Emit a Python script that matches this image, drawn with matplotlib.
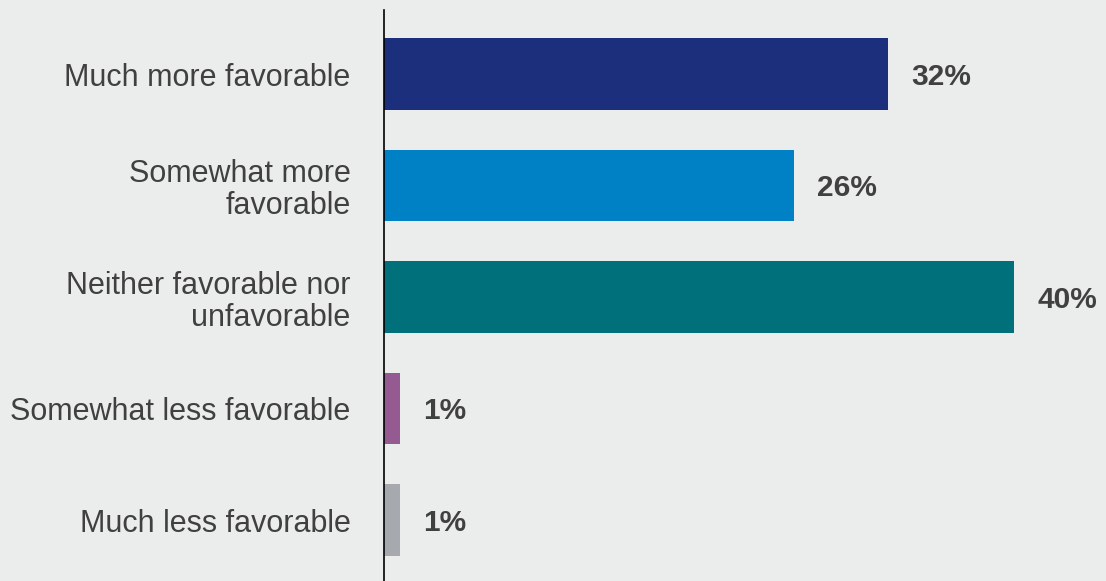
import matplotlib
matplotlib.use("Agg")
from matplotlib import pyplot as plt

categories = ["Much more favorable", "Somewhat more\nfavorable",
              "Neither favorable nor\nunfavorable", "Somewhat less favorable",
              "Much less favorable"]
values = [32, 26, 40, 1, 1]
value_labels = ["32%", "26%", "40%", "1%", "1%"]
bar_colors = ["#1B2F7D", "#0081C6", "#00717A", "#955A91", "#A6AAAE"]

bg = "#EBEDEC"
text_color = "#404040"

plt.rcParams["font.family"] = ["Liberation Sans", "DejaVu Sans"]

fig = plt.figure(figsize=(11.06, 5.81), dpi=100, facecolor=bg)
ax = fig.add_axes([384 / 1106, 0, 1 - 384 / 1106, 1 - 10 / 581])
ax.set_facecolor(bg)

ypos = list(range(len(categories)))
ax.barh(ypos, values, height=0.645, color=bar_colors)

px_per_unit = 630 / 40
for y, v, lab in zip(ypos, values, value_labels):
    ax.text(v + 23 / px_per_unit, y + 0.025, lab, va="center", ha="left",
            fontsize=21.5, fontweight="bold", color=text_color)

ax.set_xlim(0, 722 / px_per_unit)
ax.set_ylim(4 + 61 / 111.5, -64 / 111.5)

ax.set_yticks(ypos)
ax.set_yticklabels(categories, fontsize=22, color=text_color, linespacing=1.1)
ax.tick_params(axis="y", length=0, pad=24)
ax.set_xticks([])

for side in ["top", "right", "bottom"]:
    ax.spines[side].set_visible(False)
ax.spines["left"].set_color("black")
ax.spines["left"].set_linewidth(1.2)

fig.savefig("out.png", dpi=100, facecolor=bg)
